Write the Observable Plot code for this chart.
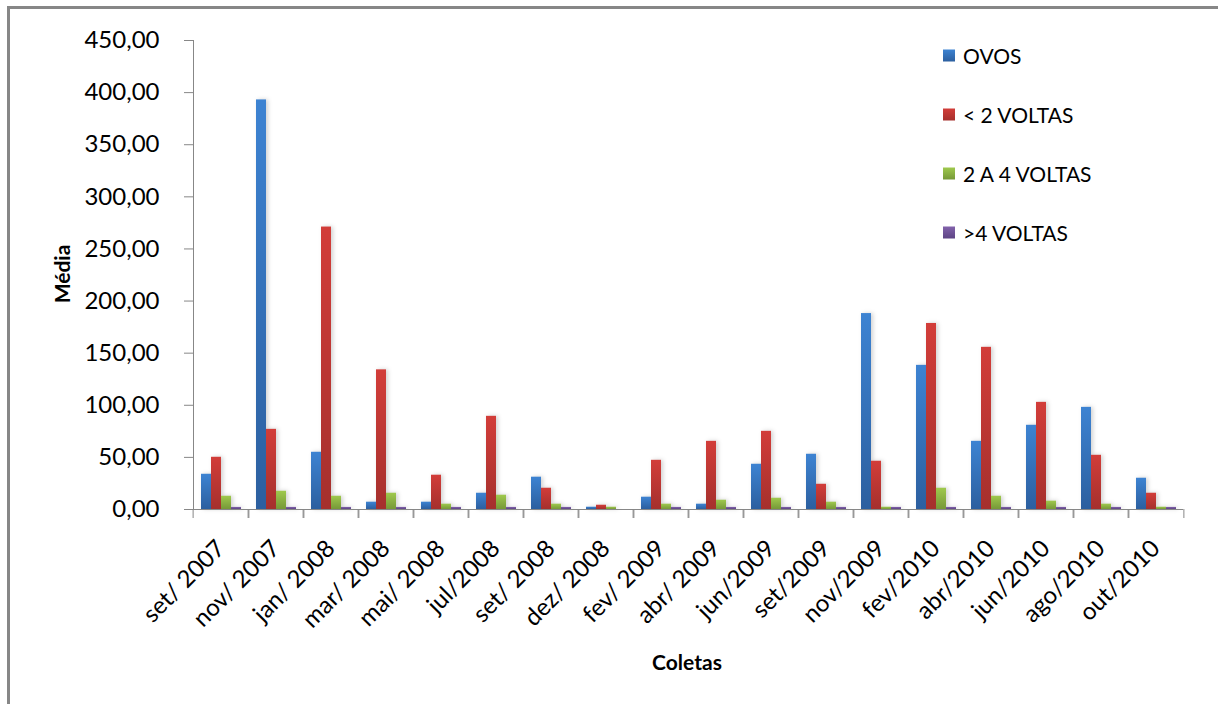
<!DOCTYPE html>
<html>
<head>
<meta charset="utf-8">
<script src="https://cdn.jsdelivr.net/npm/d3@7"></script>
<script src="https://cdn.jsdelivr.net/npm/@observablehq/plot@0.6"></script>
<style>
  html, body { margin: 0; padding: 0; background: #fff; overflow: hidden; }
  #wrap { position: relative; width: 1218px; height: 704px; font-family: Lato, "Open Sans", sans-serif; color: #000; }
  #border { position: absolute; left: 7px; top: 6px; width: 1260px; height: 760px; border: 3px solid #878787; box-sizing: border-box; }
  #chart { position: absolute; left: 0; top: 0; }
  #chart svg text { fill: #000; }
  #chart g[aria-label="bar"] { filter: drop-shadow(2px 0px 2px rgba(0,0,0,0.18)); }
  .axis-title { position: absolute; font-weight: 700; font-size: 21px; white-space: nowrap; }
  #ytitle { left: 61px; top: 274px; transform: translate(-50%, -50%) rotate(-90deg); }
  #xtitle { left: 687px; top: 661px; transform: translate(-50%, -50%); }
  #legend { position: absolute; left: 943px; top: 0; }
  .item { position: absolute; left: 0; display: flex; align-items: center; font-size: 21px; white-space: nowrap; transform: translateY(-50%); }
  .sw { width: 12px; height: 12px; margin-right: 8px; flex: none; }
</style>
</head>
<body>
<div id="wrap">
  <div id="border"></div>
  <div id="chart"></div>
  <div id="ytitle" class="axis-title">Média</div>
  <div id="xtitle" class="axis-title">Coletas</div>
  <div id="legend"></div>
</div>
<script>
// Sampling dates (x categories)
const categories = [
  "set/ 2007", "nov/ 2007", "jan/ 2008", "mar/ 2008", "mai/ 2008", "jul/2008",
  "set/ 2008", "dez/ 2008", "fev/ 2009", "abr/ 2009", "jun/2009", "set/2009",
  "nov/2009", "fev/2010", "abr/2010", "jun/2010", "ago/2010", "out/2010"
];

// Series names
const seriesNames = ["OVOS", "< 2 VOLTAS", "2 A 4 VOLTAS", ">4 VOLTAS"];

// Mean values per sampling date, one array per series
const ovos    = [33.8, 393, 54.9, 7.0, 7.0, 15.6, 31.0, 2.2, 11.8, 5.1, 43.4, 53.0, 188, 138.3, 65.4, 80.8, 98.0, 30.0];
const menos2  = [50.1, 76.9, 271, 134, 32.9, 89.4, 20.4, 4.1, 47.2, 65.4, 75.0, 24.2, 46.3, 178.5, 155.6, 102.8, 52.0, 15.6];
const de2a4   = [12.7, 17.5, 12.7, 15.6, 5.1, 13.7, 5.1, 2.2, 5.1, 8.9, 10.8, 7.0, 2.2, 20.4, 12.7, 8.0, 5.1, 2.2];
const mais4   = [2.0, 2.0, 2.0, 2.0, 2.0, 2.0, 2.0, 0, 2.0, 2.0, 2.0, 2.0, 2.0, 2.0, 2.0, 2.0, 2.0, 2.0];

// Y axis tick values
const yTicks = [0, 50, 100, 150, 200, 250, 300, 350, 400, 450];

// Gradient stops (top, bottom) for each series
const seriesGradients = [
  ["#3d83d2", "#2c5f9f"],
  ["#d23d39", "#a5302d"],
  ["#9fc94d", "#769838"],
  ["#8262ab", "#5d4484"]
];

const seriesValues = [ovos, menos2, de2a4, mais4];
const rows = categories.flatMap((coleta, i) =>
  seriesValues.map((vals, k) => ({coleta, serie: seriesNames[k], media: vals[i]}))
);

const W = 1218, H = 704;
const mL = 186, mR = 28, mT = 40, mB = 195;
const step = (W - mL - mR) / categories.length;
const fmt = d => d.toFixed(2).replace(".", ",");

const chart = Plot.plot({
  width: W,
  height: H,
  marginLeft: mL,
  marginRight: mR,
  marginTop: mT,
  marginBottom: mB,
  style: {fontFamily: "Lato, 'Open Sans', sans-serif", fontSize: "24px", color: "#878787", background: "transparent"},
  fx: {domain: categories, padding: 0},
  x: {domain: seriesNames, paddingInner: 0, paddingOuter: 0.71, axis: null},
  y: {domain: [0, 450], ticks: yTicks, tickSize: 9, tickPadding: 25, tickFormat: fmt, line: true, label: null},
  color: {domain: seriesNames, range: seriesNames.map((_, k) => `url(#grad${k})`)},
  marks: [
    Plot.barY(rows, {fx: "coleta", x: "serie", y: "media", fill: "serie"}),
    Plot.ruleY([0], {stroke: "#878787"}),
    Plot.axisFx({anchor: "bottom", tickSize: 0, tickRotate: -45, tickPadding: 35, label: null, fill: "#000", fontSize: 24}),
    Plot.axisFx({anchor: "bottom", text: null, tickSize: 9, dx: -step / 2, label: null, stroke: "#878787"}),
    Plot.axisFx({anchor: "bottom", text: null, tickSize: 9, dx: step / 2, label: null, stroke: "#878787"})
  ]
});

// Vertical gradients used by the bars and legend swatches
const ns = "http://www.w3.org/2000/svg";
const defs = document.createElementNS(ns, "defs");
seriesGradients.forEach(([top, bottom], k) => {
  const g = document.createElementNS(ns, "linearGradient");
  g.setAttribute("id", `grad${k}`);
  g.setAttribute("x1", "0"); g.setAttribute("y1", "0");
  g.setAttribute("x2", "0"); g.setAttribute("y2", "1");
  [[0, top], [1, bottom]].forEach(([o, c]) => {
    const s = document.createElementNS(ns, "stop");
    s.setAttribute("offset", o);
    s.setAttribute("stop-color", c);
    g.appendChild(s);
  });
  defs.appendChild(g);
});
chart.insertBefore(defs, chart.firstChild);
document.getElementById("chart").appendChild(chart);

// Legend inside the plot area, top right
const legend = document.getElementById("legend");
seriesNames.forEach((name, k) => {
  const item = document.createElement("div");
  item.className = "item";
  item.style.top = (55 + k * 59) + "px";
  const sw = document.createElement("span");
  sw.className = "sw";
  sw.style.background = `linear-gradient(${seriesGradients[k][0]}, ${seriesGradients[k][1]})`;
  const label = document.createElement("span");
  label.textContent = name;
  item.appendChild(sw);
  item.appendChild(label);
  legend.appendChild(item);
});
</script>
</body>
</html>
